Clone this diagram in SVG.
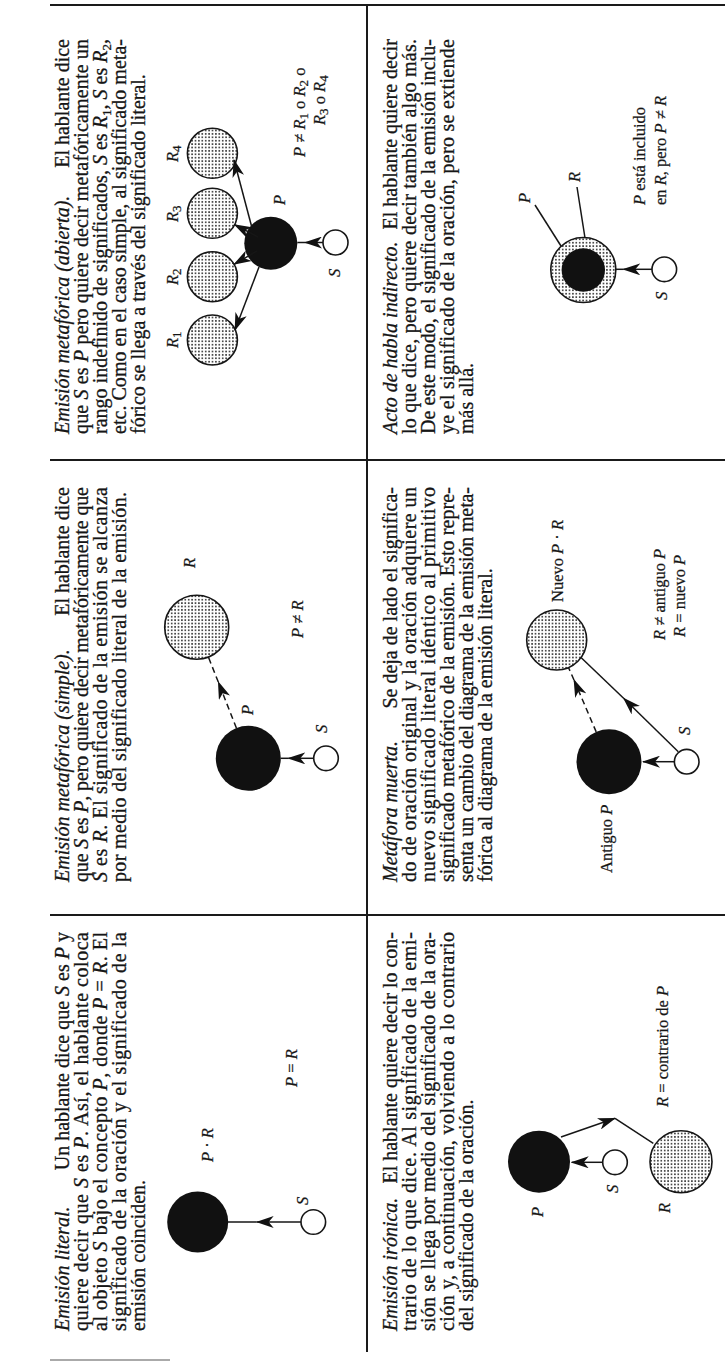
<svg xmlns="http://www.w3.org/2000/svg" width="725" height="1363" viewBox="0 0 725 1363">
<style>
.t{font-family:"Liberation Serif","Times New Roman",serif;font-size:20px;fill:#161616;stroke:#161616;stroke-width:0.3px}
.i{font-style:italic}
.lb{font-family:"Liberation Serif","Times New Roman",serif;font-size:16.5px;fill:#161616;stroke:#161616;stroke-width:0.25px}
.sub{font-size:13px;font-style:normal}
.grid{stroke:#1a1a1a;stroke-width:2;fill:none}
.c{stroke:#161616;stroke-width:1.5;fill:none}
.d{stroke-dasharray:6 4}
.blk{fill:#111}
.dot{fill:url(#dots);stroke:#161616;stroke-width:1.6}
.wht{fill:#fff;stroke:#161616;stroke-width:1.6}
</style>
<defs>
<pattern id="dots" width="3.4" height="3.4" patternUnits="userSpaceOnUse"><rect width="3.4" height="3.4" fill="#fff"/><circle cx="1.7" cy="1.7" r="0.95" fill="#222"/></pattern>
<marker id="ah" viewBox="0 0 18 12" refX="17" refY="6" markerWidth="18" markerHeight="12" markerUnits="userSpaceOnUse" orient="auto"><path d="M0,0 L18,6 L0,12 L5,6 Z" fill="#111"/></marker>
</defs>
<rect width="725" height="1363" fill="#fff"/>
<g transform="translate(0,1363) rotate(-90)">
<g id="grid" class="grid">
<line x1="1358" y1="50" x2="1358" y2="725"/>
<line x1="903" y1="50" x2="903" y2="725"/>
<line x1="448" y1="50" x2="448" y2="725"/>
<line x1="11" y1="367" x2="1358" y2="367"/>
<line x1="3" y1="50" x2="3" y2="170" stroke="#aaa"/>
</g>

<g id="n-literal">
<text class="t i" x="32" y="69">Emisión literal.</text>
<text class="t" x="431" y="69" text-anchor="end">Un hablante dice que <tspan class="i">S</tspan> es <tspan class="i">P</tspan> y</text>
<text class="t" x="32" y="88" textLength="399" lengthAdjust="spacing">quiere decir que <tspan class="i">S</tspan> es <tspan class="i">P</tspan>. Así, el hablante coloca</text>
<text class="t" x="32" y="107" textLength="399" lengthAdjust="spacing">al objeto <tspan class="i">S</tspan> bajo el concepto <tspan class="i">P</tspan>, donde <tspan class="i">P</tspan> = <tspan class="i">R</tspan>. El</text>
<text class="t" x="32" y="126" textLength="399" lengthAdjust="spacing">significado de la oración y el significado de la</text>
<text class="t" x="32" y="145">emisión coinciden.</text>
<circle class="blk" cx="141" cy="197.7" r="30.5"/>
<circle class="wht" cx="141" cy="313.3" r="12.3"/>
<text class="lb i" x="158" y="308">S</text>
<text class="lb" x="201" y="213"><tspan class="i">P</tspan> · <tspan class="i">R</tspan></text>
<text class="lb" x="276" y="297"><tspan class="i">P</tspan> = <tspan class="i">R</tspan></text>
</g>

<g id="n-metafora-simple">
<text class="t i" x="481" y="69">Emisión metafórica (simple).</text>
<text class="t" x="876" y="69" text-anchor="end">El hablante dice</text>
<text class="t" x="481" y="88" textLength="395" lengthAdjust="spacing">que <tspan class="i">S</tspan> es <tspan class="i">P</tspan>, pero quiere decir metafóricamente que</text>
<text class="t" x="481" y="107" textLength="395" lengthAdjust="spacing"><tspan class="i">S</tspan> es <tspan class="i">R</tspan>. El significado de la emisión se alcanza</text>
<text class="t" x="481" y="126" textLength="390" lengthAdjust="spacing">por medio del significado literal de la emisión.</text>
<circle class="blk" cx="604.7" cy="248.3" r="32.5"/>
<circle class="wht" cx="604.7" cy="326" r="12.3"/>
<circle class="dot" cx="735.7" cy="196.7" r="32"/>
<text class="lb i" x="795" y="195">R</text>
<text class="lb i" x="648" y="253">P</text>
<text class="lb i" x="630" y="327">S</text>
<text class="lb" x="725" y="303"><tspan class="i">P</tspan> ≠ <tspan class="i">R</tspan></text>
</g>

<g id="n-metafora-abierta">
<text class="t i" x="929" y="69">Emisión metafórica (abierta).</text>
<text class="t" x="1324" y="69" text-anchor="end">El hablante dice</text>
<text class="t" x="929" y="88" textLength="395" lengthAdjust="spacing">que <tspan class="i">S</tspan> es <tspan class="i">P</tspan> pero quiere decir metafóricamente un</text>
<text class="t" x="929" y="107" textLength="395" lengthAdjust="spacing">rango indefinido de significados, <tspan class="i">S</tspan> es <tspan class="i">R</tspan><tspan class="sub" dy="4">1</tspan><tspan dy="-4">, </tspan><tspan class="i">S</tspan> es <tspan class="i">R</tspan><tspan class="sub" dy="4">2</tspan><tspan dy="-4">,</tspan></text>
<text class="t" x="929" y="126" textLength="395" lengthAdjust="spacing">etc. Como en el caso simple, al significado meta-</text>
<text class="t" x="929" y="145">fórico se llega a través del significado literal.</text>
<circle class="dot" cx="1209.7" cy="212.4" r="25"/>
<circle class="dot" cx="1149.7" cy="212.4" r="25"/>
<circle class="dot" cx="1086.3" cy="212.4" r="25"/>
<circle class="dot" cx="1023" cy="212.4" r="25"/>
<circle class="blk" cx="1119.7" cy="270.8" r="26.5"/>
<circle class="wht" cx="1120.5" cy="335.5" r="12.5"/>
<text class="lb i" x="1015" y="178">R<tspan class="sub" dy="3">1</tspan></text>
<text class="lb i" x="1078" y="178">R<tspan class="sub" dy="3">2</tspan></text>
<text class="lb i" x="1141" y="178">R<tspan class="sub" dy="3">3</tspan></text>
<text class="lb i" x="1201" y="178">R<tspan class="sub" dy="3">4</tspan></text>
<text class="lb i" x="1158" y="285">P</text>
<text class="lb i" x="1086" y="340">S</text>
<text class="lb" x="1206" y="305"><tspan class="i">P</tspan> ≠ <tspan class="i">R</tspan><tspan class="sub" dy="3">1</tspan><tspan dy="-3"> o </tspan><tspan class="i">R</tspan><tspan class="sub" dy="3">2</tspan><tspan dy="-3"> o</tspan></text>
<text class="lb" x="1238" y="325"><tspan class="i">R</tspan><tspan class="sub" dy="3">3</tspan><tspan dy="-3"> o </tspan><tspan class="i">R</tspan><tspan class="sub" dy="3">4</tspan></text>
</g>

<g id="n-ironica">
<text class="t i" x="32" y="397">Emisión irónica.</text>
<text class="t" x="431" y="397" text-anchor="end">El hablante quiere decir lo con-</text>
<text class="t" x="32" y="416" textLength="399" lengthAdjust="spacing">trario de lo que dice. Al significado de la emi-</text>
<text class="t" x="32" y="435" textLength="399" lengthAdjust="spacing">sión se llega por medio del significado de la ora-</text>
<text class="t" x="32" y="454" textLength="399" lengthAdjust="spacing">ción y, a continuación, volviendo a lo contrario</text>
<text class="t" x="32" y="473">del significado de la oración.</text>
<circle class="blk" cx="201.3" cy="539" r="31"/>
<circle class="wht" cx="200.7" cy="615" r="12.3"/>
<circle class="dot" cx="201.3" cy="681" r="31"/>
<text class="lb i" x="146" y="543">P</text>
<text class="lb i" x="170" y="618">S</text>
<text class="lb i" x="150" y="670">R</text>
<text class="lb" x="256" y="668"><tspan class="i">R</tspan> = contrario de <tspan class="i">P</tspan></text>
</g>

<g id="n-muerta">
<text class="t i" x="481" y="397">Metáfora muerta.</text>
<text class="t" x="876" y="397" text-anchor="end">Se deja de lado el significa-</text>
<text class="t" x="481" y="416" textLength="395" lengthAdjust="spacing">do de oración original y la oración adquiere un</text>
<text class="t" x="481" y="435" textLength="395" lengthAdjust="spacing">nuevo significado literal idéntico al primitivo</text>
<text class="t" x="481" y="454" textLength="395" lengthAdjust="spacing">significado metafórico de la emisión. Esto repre-</text>
<text class="t" x="481" y="473" textLength="395" lengthAdjust="spacing">senta un cambio del diagrama de la emisión meta-</text>
<text class="t" x="481" y="492">fórica al diagrama de la emisión literal.</text>
<circle class="dot" cx="723" cy="556.7" r="30"/>
<circle class="blk" cx="601.3" cy="609" r="32.5"/>
<circle class="wht" cx="601.3" cy="686.7" r="12.3"/>
<text class="lb" x="761" y="563">Nuevo <tspan class="i">P</tspan> · <tspan class="i">R</tspan></text>
<text class="lb" x="490" y="612">Antiguo <tspan class="i">P</tspan></text>
<text class="lb i" x="628" y="690">S</text>
<text class="lb" x="723" y="665"><tspan class="i">R</tspan> ≠ antiguo <tspan class="i">P</tspan></text>
<text class="lb" x="726" y="685"><tspan class="i">R</tspan> = nuevo <tspan class="i">P</tspan></text>
</g>

<g id="n-indirecto">
<text class="t i" x="929" y="397">Acto de habla indirecto.</text>
<text class="t" x="1324" y="397" text-anchor="end">El hablante quiere decir</text>
<text class="t" x="929" y="416" textLength="395" lengthAdjust="spacing">lo que dice, pero quiere decir también algo más.</text>
<text class="t" x="929" y="435" textLength="395" lengthAdjust="spacing">De este modo, el significado de la emisión inclu-</text>
<text class="t" x="929" y="454" textLength="395" lengthAdjust="spacing">ye el significado de la oración, pero se extiende</text>
<text class="t" x="929" y="473">más allá.</text>
<circle class="dot" cx="1093" cy="583.3" r="32.5"/>
<circle class="blk" cx="1093" cy="583.3" r="21.7"/>
<circle class="wht" cx="1093.7" cy="664.3" r="12.3"/>
<text class="lb i" x="1160" y="530">P</text>
<text class="lb i" x="1181" y="580">R</text>
<text class="lb i" x="1063" y="667">S</text>
<text class="lb" x="1158" y="645"><tspan class="i">P</tspan> está incluido</text>
<text class="lb" x="1158" y="666">en <tspan class="i">R</tspan>, pero <tspan class="i">P</tspan> ≠ <tspan class="i">R</tspan></text>
</g>

<g id="connectors" class="c">
<path d="M141,301 L141,256.7" marker-end="url(#ah)"/>
<path d="M141,256.7 L141,228"/>
<path d="M604.7,313.7 L604.7,288.3" marker-end="url(#ah)"/>
<path d="M604.7,288.3 L604.7,280.8"/>
<path class="d" d="M634.9,236.4 L681,218.3" marker-end="url(#ah)"/>
<path class="d" d="M681,218.3 L705.9,208.4"/>
<path d="M1120.5,323 L1120.5,305" marker-end="url(#ah)"/>
<path d="M1120.5,305 L1120.5,297.3"/>
<path d="M1136.3,251.7 L1203,234" marker-end="url(#ah)"/>
<path d="M1096,259 L1033,235" marker-end="url(#ah)"/>
<path d="M1126,258 L1138.3,234.6" marker-end="url(#ah)"/>
<path d="M1112,257 L1098.7,234.1" marker-end="url(#ah)"/>
<path d="M200.7,602.7 L200.7,571.7" marker-end="url(#ah)"/>
<path d="M226,561 L244.7,615" marker-end="url(#ah)"/>
<path d="M244.7,615 L219.7,653.3"/>
<path d="M601.3,674.4 L601.3,643" marker-end="url(#ah)"/>
<path class="d" d="M631.1,596.2 L683,574" marker-end="url(#ah)"/>
<path class="d" d="M683,574 L695.5,568.5"/>
<path d="M611.3,678.3 L664.7,623.6" marker-end="url(#ah)"/>
<path d="M664.7,623.6 L705.5,581"/>
<path d="M1093.7,652 L1093.7,623.3" marker-end="url(#ah)"/>
<path d="M1093.7,623.3 L1093.7,615.8"/>
<path d="M1158,535 L1117,561"/>
<path d="M1176,577 L1125,585"/>
</g>
</g>
</svg>
